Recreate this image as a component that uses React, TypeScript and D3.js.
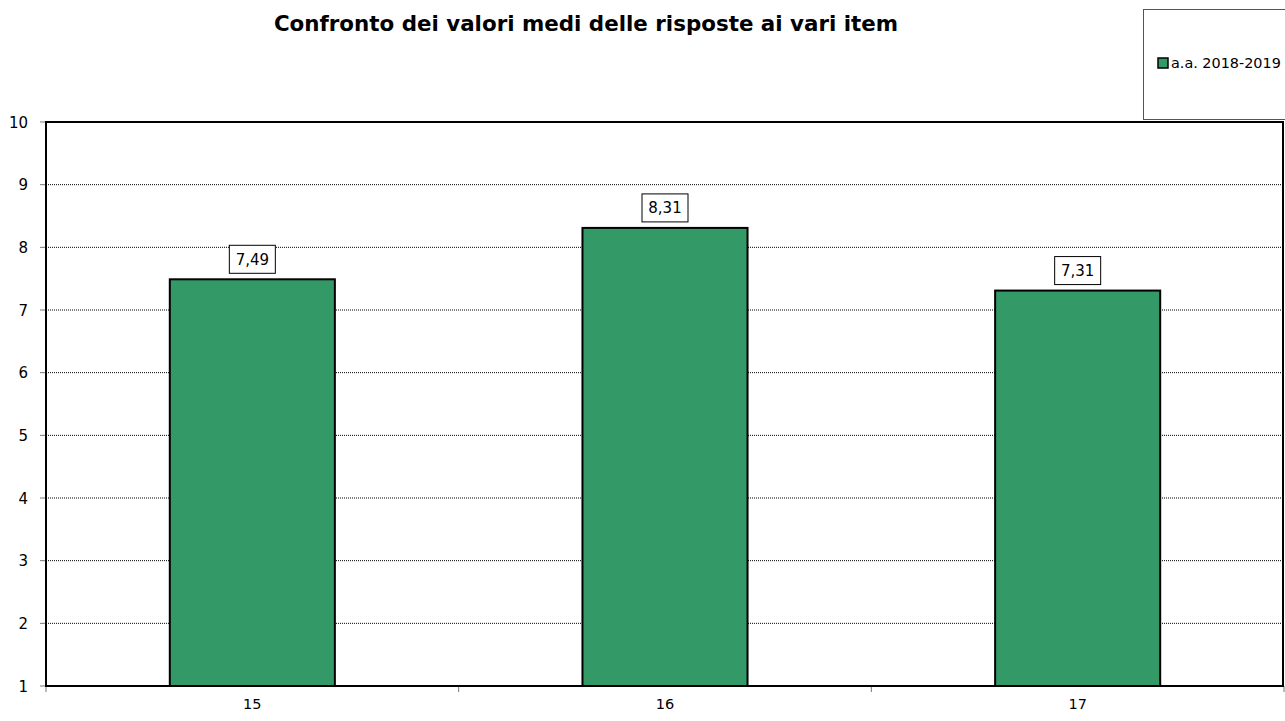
import * as d3 from "d3";

const categories = ["15", "16", "17"];
const values = [7.49, 8.31, 7.31];
const valueLabels = ["7,49", "8,31", "7,31"];
const yTicks = [1, 2, 3, 4, 5, 6, 7, 8, 9, 10];
const seriesName = "a.a. 2018-2019";
const title = "Confronto dei valori medi delle risposte ai vari item";

const width = 1285;
const height = 721;
const marginLeft = 46;
const marginRight = 1;
const marginTop = 122;
const marginBottom = 35;

const barColor = "#339966";
const font = "'DejaVu Sans', 'Open Sans', sans-serif";

const App = () => {
  const x = d3
    .scaleBand<string>()
    .domain(categories)
    .range([marginLeft, width - marginRight])
    .paddingInner(0.6)
    .paddingOuter(0.3);

  const y = d3
    .scaleLinear()
    .domain([1, 10])
    .range([height - marginBottom, marginTop]);

  const step = x.step();
  const x0 = marginLeft;
  const x1 = width - marginRight;

  return (
    <svg
      width={width}
      height={height}
      style={{ position: "absolute", left: 0, top: 0, background: "#fff" }}
      fontFamily={font}
    >
      <text x={586} y={31} textAnchor="middle" fontSize={21.4} fontWeight="bold">
        {title}
      </text>

      {/* legend */}
      <rect x={1143.5} y={9.5} width={145} height={110} fill="#fff" stroke="#555" strokeWidth={1} />
      <rect x={1158} y={58} width={10} height={10} fill={barColor} stroke="#000" strokeWidth={1.5} />
      <text x={1171} y={68} fontSize={14.4}>
        {seriesName}
      </text>

      {/* grid */}
      {yTicks.map((t) => (
        <g key={t}>
          {t > 1 && t < 10 && (
            <line
              x1={x0}
              x2={x1}
              y1={y(t)}
              y2={y(t)}
              stroke="#000"
              strokeWidth={1}
              strokeDasharray="1,1"
            />
          )}
          <line x1={x0 - 6} x2={x0} y1={y(t)} y2={y(t)} stroke="#777" strokeWidth={1} />
          <text x={28} y={y(t) + 5.5} textAnchor="end" fontSize={15}>
            {t}
          </text>
        </g>
      ))}

      {/* bars */}
      {categories.map((c, i) => (
        <g key={c}>
          <rect
            x={x(c)!}
            y={y(values[i])}
            width={x.bandwidth()}
            height={y(1) - y(values[i])}
            fill={barColor}
            stroke="#000"
            strokeWidth={2}
          />
          <rect
            x={x(c)! + x.bandwidth() / 2 - 23}
            y={y(values[i]) - 34}
            width={46}
            height={28}
            fill="#fff"
            stroke="#000"
            strokeWidth={1}
          />
          <text
            x={x(c)! + x.bandwidth() / 2}
            y={y(values[i]) - 14.5}
            textAnchor="middle"
            fontSize={15}
          >
            {valueLabels[i]}
          </text>
          <text
            x={x(c)! + x.bandwidth() / 2}
            y={height - 12}
            textAnchor="middle"
            fontSize={14.5}
          >
            {c}
          </text>
        </g>
      ))}

      {/* x ticks */}
      {d3.range(categories.length + 1).map((k) => (
        <line
          key={k}
          x1={x0 + k * step}
          x2={x0 + k * step}
          y1={y(1)}
          y2={y(1) + 6}
          stroke="#777"
          strokeWidth={1}
        />
      ))}

      {/* frame */}
      <rect
        x={x0}
        y={y(10)}
        width={x1 - x0 - 1}
        height={y(1) - y(10)}
        fill="none"
        stroke="#000"
        strokeWidth={2}
      />
    </svg>
  );
};

export default App;
